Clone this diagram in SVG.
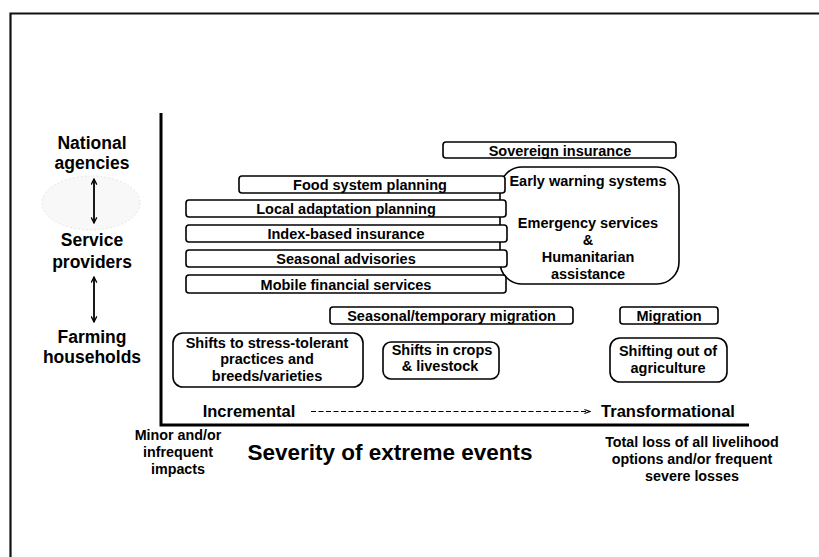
<svg xmlns="http://www.w3.org/2000/svg" width="819" height="557" viewBox="0 0 819 557">
<style>
text{font-family:"Liberation Sans",Arial,sans-serif;font-weight:700;fill:#000;text-anchor:middle}
.b{font-size:14.5px}
.l{font-size:17.5px}
.s{font-size:14.3px}
.box{fill:#fff;stroke:#000;stroke-width:1.6}
.ax{stroke:#000;stroke-width:3;fill:none}
.arr{stroke:#000;stroke-width:1.8;fill:none}
</style>
<defs>
<marker id="ah" viewBox="0 0 10 10" refX="9" refY="5" markerWidth="7" markerHeight="7" orient="auto-start-reverse" markerUnits="userSpaceOnUse">
<path d="M1,1 L9,5 L1,9" fill="none" stroke="#000" stroke-width="1.8"/>
</marker>
<marker id="dh" viewBox="0 0 10 10" refX="9" refY="5" markerWidth="7" markerHeight="7" orient="auto" markerUnits="userSpaceOnUse">
<path d="M1,2 L9,5 L1,8" fill="none" stroke="#000" stroke-width="1.5"/>
</marker>
</defs>
<rect width="819" height="557" fill="#fff"/>
<path d="M10.5,557 V13.5 H819" fill="none" stroke="#111" stroke-width="2.2"/>

<g id="axes">
<path class="ax" d="M161,113 V425 H749"/>
</g>

<g id="levels">
<ellipse cx="91" cy="203" rx="49" ry="27" fill="#f8f8f8" stroke="#ddd" stroke-width="0.8" stroke-dasharray="2 2"/>
<text class="l" x="92" y="149">National</text>
<text class="l" x="92" y="169">agencies</text>
<text class="l" x="92" y="246">Service</text>
<text class="l" x="92" y="268">providers</text>
<text class="l" x="92" y="343">Farming</text>
<text class="l" x="92" y="363">households</text>
</g>

<g id="connectors">
<line class="arr" x1="94" y1="179" x2="94" y2="223" marker-start="url(#ah)" marker-end="url(#ah)"/>
<line class="arr" x1="94" y1="277" x2="94" y2="322" marker-start="url(#ah)" marker-end="url(#ah)"/>
<line class="arr" x1="587" y1="191" x2="587" y2="209" marker-end="url(#ah)"/>
<line x1="311" y1="411.5" x2="590" y2="411.5" stroke="#000" stroke-width="1.2" stroke-dasharray="5 2.5" marker-end="url(#dh)"/>
</g>

<g id="early-warning">
<rect class="box" x="500" y="167" width="179" height="117" rx="22"/>
<text class="b" x="588" y="185.5">Early warning systems</text>
<text class="b" x="588" y="228">Emergency services</text>
<text class="b" x="588" y="245">&amp;</text>
<text class="b" x="588" y="262">Humanitarian</text>
<text class="b" x="588" y="279">assistance</text>
</g>

<g id="sovereign-insurance">
<rect class="box" x="443" y="142" width="233" height="16" rx="3"/>
<text class="b" x="560" y="155.5">Sovereign insurance</text>
</g>
<g id="food-system-planning">
<rect class="box" x="239" y="176" width="266" height="17" rx="3"/>
<text class="b" x="370" y="190">Food system planning</text>
</g>
<g id="local-adaptation-planning">
<rect class="box" x="186" y="200" width="320" height="17" rx="3"/>
<text class="b" x="346" y="214">Local adaptation planning</text>
</g>
<g id="index-based-insurance">
<rect class="box" x="186" y="225" width="321" height="17" rx="3"/>
<text class="b" x="346" y="239">Index-based insurance</text>
</g>
<g id="seasonal-advisories">
<rect class="box" x="186" y="250" width="321" height="17" rx="3"/>
<text class="b" x="346" y="264">Seasonal advisories</text>
</g>
<g id="mobile-financial-services">
<rect class="box" x="186" y="275" width="320" height="18" rx="3"/>
<text class="b" x="346" y="289.5">Mobile financial services</text>
</g>
<g id="seasonal-migration">
<rect class="box" x="330" y="307" width="243" height="17" rx="3"/>
<text class="b" x="451.5" y="321">Seasonal/temporary migration</text>
</g>
<g id="migration">
<rect class="box" x="620" y="307" width="98" height="17" rx="3"/>
<text class="b" x="669" y="321">Migration</text>
</g>
<g id="stress-tolerant">
<rect class="box" x="173" y="333" width="190" height="54" rx="10"/>
<text class="b" x="267" y="347.5">Shifts to stress-tolerant</text>
<text class="b" x="267" y="364">practices and</text>
<text class="b" x="267" y="380.5">breeds/varieties</text>
</g>
<g id="crops-livestock">
<rect class="box" x="383" y="342" width="116" height="37" rx="8"/>
<text class="b" x="442" y="354.5">Shifts in crops</text>
<text class="b" x="440" y="371">&amp; livestock</text>
</g>
<g id="shifting-out">
<rect class="box" x="610" y="338" width="117" height="44" rx="10"/>
<text class="b" x="668" y="356">Shifting out of</text>
<text class="b" x="668" y="372.5">agriculture</text>
</g>

<g id="axis-labels">
<text style="font-size:16.5px" x="249" y="416.5">Incremental</text>
<text style="font-size:16.5px" x="668" y="416.5">Transformational</text>
<text class="s" x="178" y="440">Minor and/or</text>
<text class="s" x="178" y="457">infrequent</text>
<text class="s" x="178" y="474">impacts</text>
<text style="font-size:22.5px" x="390" y="460">Severity of extreme events</text>
<text class="s" x="692" y="447">Total loss of all livelihood</text>
<text class="s" x="692" y="464">options and/or frequent</text>
<text class="s" x="692" y="481">severe losses</text>
</g>
</svg>
